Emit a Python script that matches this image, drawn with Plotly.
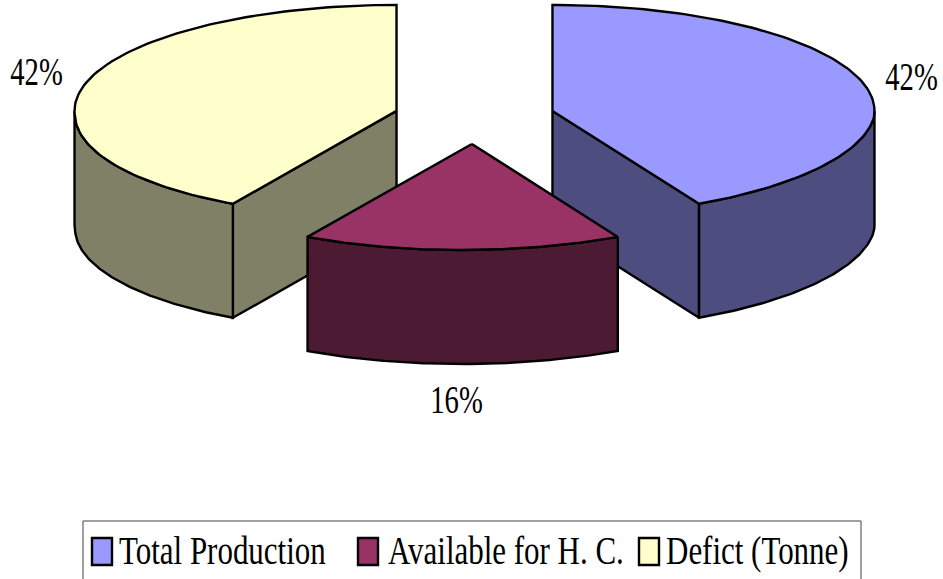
import json
import numpy as np
import plotly.graph_objects as go

# ---- data ----
categories = ["Total Production", "Available for H. C.", "Defict (Tonne)"]
shares = [42, 16, 42]
top_colors = ["#9999FF", "#993366", "#FFFFCC"]
side_colors = ["#4D4D80", "#4D1A33", "#808066"]

# ---- canvas / pie geometry (pixel space) ----
W, H = 943, 579
CX, CY = 474.5, 117.5      # centre of the un-exploded top face
RX, RY = 322.0, 106.0      # ellipse radii of the tilted disc
DEPTH = 114.0              # thickness of the disc
EXPLODE = 0.25             # slice pull-out, fraction of radius
SKEW = 10.5                # slight leftward lean of the near half of the disc
EDGE_W = 2.4
FONT = "Liberation Serif"


def to_screen(u, w, drop=0.0):
    """Disc coordinates (u right, w toward viewer; unit radius) -> pixels."""
    u = np.asarray(u, dtype=float)
    w = np.asarray(w, dtype=float)
    x = CX + RX * u - SKEW * np.clip(w, 0.0, None)
    y = CY + RY * w + drop
    return x, y


def rim_uw(s, ang):
    t = np.radians(ang)
    return s["u0"] + np.sin(t), s["w0"] - np.cos(t)


total = float(sum(shares))
ends = np.cumsum(shares) / total * 360.0
starts = np.concatenate([[0.0], ends[:-1]])

slices = []
for i, name in enumerate(categories):
    a0, a1 = starts[i], ends[i]
    mid = 0.5 * (a0 + a1)
    slices.append(dict(i=i, name=name, a0=a0, a1=a1, mid=mid,
                       u0=EXPLODE * np.sin(np.radians(mid)),
                       w0=-EXPLODE * np.cos(np.radians(mid))))

# paint back-most slices first
slices.sort(key=lambda s: s["w0"])

fig = go.Figure()


def face(xs, ys, fill, name):
    xs, ys = list(xs), list(ys)
    fig.add_trace(go.Scatter(
        x=xs + [xs[0]], y=ys + [ys[0]], mode="lines", fill="toself",
        fillcolor=fill, line=dict(color="black", width=EDGE_W),
        name=name, showlegend=False, hoverinfo="skip"))


for s in slices:
    a0, a1, i = s["a0"], s["a1"], s["i"]
    side = side_colors[i]
    ax_, ay_ = to_screen(s["u0"], s["w0"])
    ax_, ay_ = float(ax_), float(ay_)
    # flat cut faces (visible when their outward normal faces the viewer)
    for ang, normal in ((a0, a0 - 90.0), (a1, a1 + 90.0)):
        if np.cos(np.radians(normal - 180.0)) > 1e-6:
            ru, rw = rim_uw(s, ang)
            rx_, ry_ = to_screen(ru, rw)
            rx_, ry_ = float(rx_), float(ry_)
            face([ax_, rx_, rx_, ax_], [ay_, ry_, ry_ + DEPTH, ay_ + DEPTH],
                 side, s["name"])
    # curved outer wall, front half only
    lo, hi = max(a0, 90.0), min(a1, 270.0)
    if hi > lo:
        angs = np.linspace(lo, hi, 90)
        tx, ty = to_screen(*rim_uw(s, angs))
        bx, by = to_screen(*rim_uw(s, angs[::-1]), drop=DEPTH)
        face(np.concatenate([tx, bx]), np.concatenate([ty, by]), side, s["name"])
    # top face
    angs = np.linspace(a0, a1, 120)
    tx, ty = to_screen(*rim_uw(s, angs))
    face([ax_] + list(tx), [ay_] + list(ty), top_colors[i], s["name"])

# ---- percentage labels ----
label_pos = {0: (911, 76), 1: (456, 399), 2: (36, 71)}
annotations = []
text_cfg = []
for i, v in enumerate(shares):
    x, y = label_pos[i]
    annotations.append(dict(x=x, y=y, xref="x", yref="y", text=f"{v}%",
                            showarrow=False, xanchor="center", yanchor="middle",
                            font=dict(family=FONT, size=41, color="black")))
    text_cfg.append([0.70, "center"])

# ---- legend box ----
shapes = [dict(type="rect", x0=83, y0=521, x1=861, y1=590, xref="x", yref="y",
               line=dict(color="#404040", width=1), fillcolor="rgba(0,0,0,0)",
               layer="below")]
legend_sq_x = [92, 358, 639]
legend_txt_x = [117, 386, 664]
for i, name in enumerate(categories):
    sx = legend_sq_x[i]
    shapes.append(dict(type="rect", x0=sx, y0=538, x1=sx + 20, y1=565,
                       xref="x", yref="y", fillcolor=top_colors[i],
                       line=dict(color="black", width=2.4)))
    annotations.append(dict(x=legend_txt_x[i], y=550, xref="x", yref="y",
                            text=name, showarrow=False, xanchor="left",
                            yanchor="middle",
                            font=dict(family=FONT, size=41, color="black")))
    text_cfg.append([0.755, "left"])

fig.update_layout(
    width=W, height=H, autosize=False,
    margin=dict(l=0, r=0, t=0, b=0),
    paper_bgcolor="white", plot_bgcolor="white",
    xaxis=dict(range=[0, W], visible=False, fixedrange=True),
    yaxis=dict(range=[H, 0], visible=False, fixedrange=True),
    shapes=shapes, annotations=annotations, showlegend=False,
)

# narrow the serif glyphs horizontally, keeping each label's anchor fixed
post = """
var gd = document.getElementById('{plot_id}');
var cfg = %s;
gd.querySelectorAll('g.annotation').forEach(function(g){
  var i = +g.getAttribute('data-index');
  var c = cfg[i]; if (!c) return;
  var t = g.querySelector('text.annotation-text'); if (!t) return;
  var b = t.getBBox();
  var ax = c[1] === 'left' ? b.x : b.x + b.width / 2;
  var prev = t.getAttribute('transform') || '';
  t.setAttribute('transform', prev + ' translate(' + ax + ',0) scale(' + c[0] +
                 ',1) translate(' + (-ax) + ',0)');
});
""" % json.dumps(text_cfg)

fig.write_html("out.html", config={"displayModeBar": False, "staticPlot": True},
               post_script=post)
